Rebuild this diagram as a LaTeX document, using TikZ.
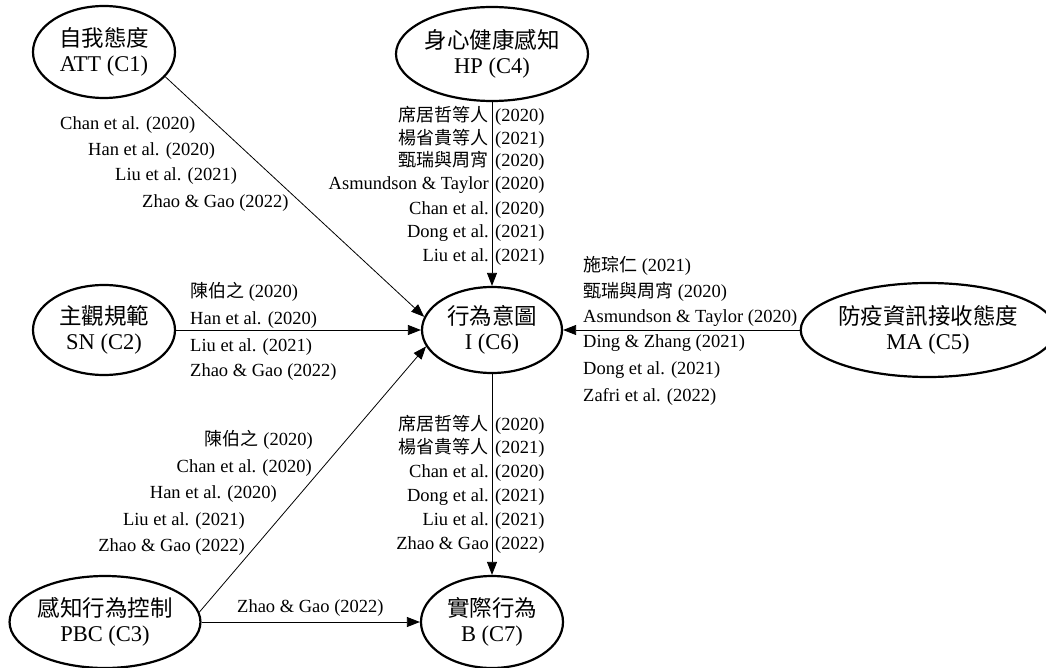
\documentclass[tikz,border=0pt]{standalone}
\usepackage{fontspec}
\setmainfont{Liberation Serif}
\newfontfamily\cjk{Noto Sans CJK TC}
\usetikzlibrary{shapes.geometric,arrows.meta}
\begin{document}
\begin{tikzpicture}[x=1pt,y=-1pt,
  cnode/.style={draw,ellipse,line width=2.2pt,inner sep=0pt,align=center,font=\fontsize{22.5}{25}\selectfont},
  conn/.style={line width=0.8pt,-{Triangle[length=13pt,width=10pt]}},
  lab/.style={inner sep=0pt,font=\fontsize{18.5}{20}\selectfont,text height=13pt,text depth=4pt},
  labc/.style={lab,font=\fontsize{18}{20}\selectfont\cjk}]
\useasboundingbox (0,0) rectangle (1046,668);
% concept nodes
\node[cnode,minimum width=142pt,minimum height=92pt] (c1) at (104,52) {{\cjk 自我態度}\\ATT (C1)};
\node[cnode,minimum width=192pt,minimum height=94pt] (c4) at (492,54) {{\cjk 身心健康感知}\\HP (C4)};
\node[cnode,minimum width=142pt,minimum height=90pt] (c2) at (104,330) {{\cjk 主觀規範}\\SN (C2)};
\node[cnode,minimum width=140pt,minimum height=86pt] (c6) at (492,330) {{\cjk 行為意圖}\\I (C6)};
\node[cnode,minimum width=230pt,minimum height=94pt] (c5) at (928,330) {{\cjk 防疫資訊接收態度}\\MA (C5)};
\node[cnode,minimum width=190pt,minimum height=92pt] (c3) at (105,622) {{\cjk 感知行為控制}\\PBC (C3)};
\node[cnode,minimum width=142pt,minimum height=92pt] (c7) at (492,622) {{\cjk 實際行為}\\B (C7)};
% connectors
\draw[conn] (c1.-22) -- (c6.169);
\draw[conn] (c4.south) -- (c6.north);
\draw[conn] (c2.east) -- (c6.west);
\draw[conn] (c3.6) -- (c6.194);
\draw[conn] (c5.west) -- (c6.east);
\draw[conn] (c6.south) -- (c7.north);
\draw[conn] (c3.east) -- (c7.west);
% C1 -> C6 labels
\node[lab,anchor=west] (l11) at (60,125) {Chan et al. (2020)};
\node[lab,anchor=west] (l12) at (88,151) {Han et al. (2020)};
\node[lab,anchor=west] (l13) at (115,176) {Liu et al. (2021)};
\node[lab,anchor=west] (l14) at (142,203) {Zhao \& Gao (2022)};
% C4 -> C6 labels
\node[labc,anchor=east] (l41a) at (489,117) {席居哲等人};
\node[lab,anchor=west] (l41b) at (495,117) {(2020)};
\node[labc,anchor=east] (l42a) at (489,140) {楊省貴等人};
\node[lab,anchor=west] (l42b) at (495,140) {(2021)};
\node[labc,anchor=east] (l43a) at (489,162) {甄瑞與周宵};
\node[lab,anchor=west] (l43b) at (495,162) {(2020)};
\node[lab,anchor=east] (l44a) at (489,185) {Asmundson \& Taylor};
\node[lab,anchor=west] (l44b) at (495,185) {(2020)};
\node[lab,anchor=east] (l45a) at (489,210) {Chan et al.};
\node[lab,anchor=west] (l45b) at (495,210) {(2020)};
\node[lab,anchor=east] (l46a) at (489,233) {Dong et al.};
\node[lab,anchor=west] (l46b) at (495,233) {(2021)};
\node[lab,anchor=east] (l47a) at (489,257) {Liu et al.};
\node[lab,anchor=west] (l47b) at (495,257) {(2021)};
% C2 -> C6 labels
\node[lab,anchor=west] (l21) at (190,293) {{\cjk\fontsize{18}{20}\selectfont 陳伯之} (2020)};
\node[lab,anchor=west] (l22) at (190,320) {Han et al. (2020)};
\node[lab,anchor=west] (l23) at (190,347) {Liu et al. (2021)};
\node[lab,anchor=west] (l24) at (190,372) {Zhao \& Gao (2022)};
% C5 -> C6 labels
\node[lab,anchor=west] (l51) at (583,267) {{\cjk\fontsize{18}{20}\selectfont 施琮仁} (2021)};
\node[lab,anchor=west] (l52) at (583,293) {{\cjk\fontsize{18}{20}\selectfont 甄瑞與周宵} (2020)};
\node[lab,anchor=west] (l53) at (583,318) {Asmundson \& Taylor (2020)};
\node[lab,anchor=west] (l54) at (583,343) {Ding \& Zhang (2021)};
\node[lab,anchor=west] (l55) at (583,370) {Dong et al. (2021)};
\node[lab,anchor=west] (l56) at (583,397) {Zafri et al. (2022)};
% C3 -> C6 labels
\node[lab,anchor=east] (l31) at (313,441) {{\cjk\fontsize{18}{20}\selectfont 陳伯之} (2020)};
\node[lab,anchor=east] (l32) at (312,468) {Chan et al. (2020)};
\node[lab,anchor=east] (l33) at (277,494) {Han et al. (2020)};
\node[lab,anchor=east] (l34) at (245,521) {Liu et al. (2021)};
\node[lab,anchor=east] (l35) at (245,547) {Zhao \& Gao (2022)};
% C3 -> C7 label
\node[lab,anchor=west] (l37) at (237,608) {Zhao \& Gao (2022)};
% C6 -> C7 labels
\node[labc,anchor=east] (l61a) at (489,426) {席居哲等人};
\node[lab,anchor=west] (l61b) at (495,426) {(2020)};
\node[labc,anchor=east] (l62a) at (489,449) {楊省貴等人};
\node[lab,anchor=west] (l62b) at (495,449) {(2021)};
\node[lab,anchor=east] (l63a) at (489,473) {Chan et al.};
\node[lab,anchor=west] (l63b) at (495,473) {(2020)};
\node[lab,anchor=east] (l64a) at (489,497) {Dong et al.};
\node[lab,anchor=west] (l64b) at (495,497) {(2021)};
\node[lab,anchor=east] (l65a) at (489,521) {Liu et al.};
\node[lab,anchor=west] (l65b) at (495,521) {(2021)};
\node[lab,anchor=east] (l66a) at (489,545) {Zhao \& Gao};
\node[lab,anchor=west] (l66b) at (495,545) {(2022)};
\end{tikzpicture}
\end{document}
